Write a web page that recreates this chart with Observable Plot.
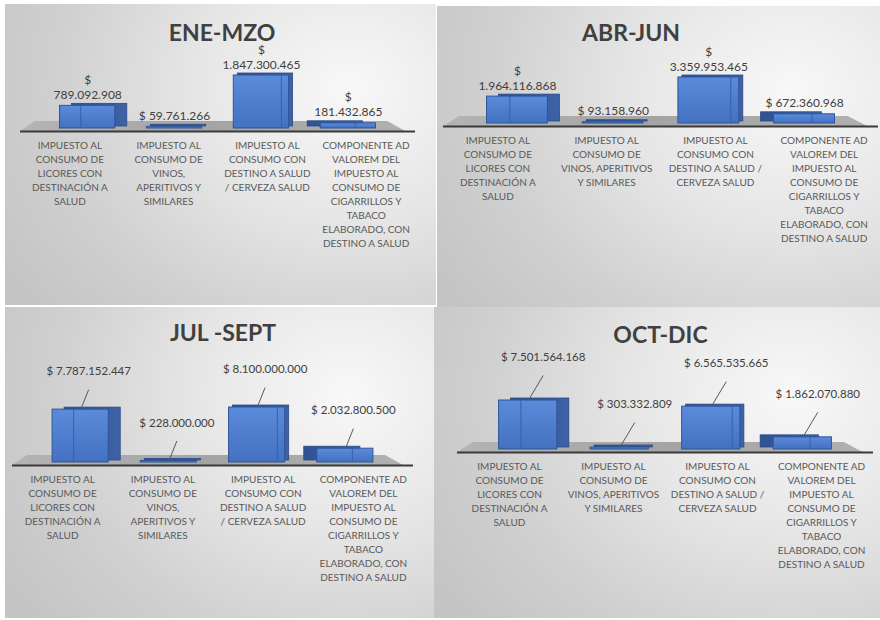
<!DOCTYPE html>
<html>
<head>
<meta charset="utf-8">
<script src="https://cdn.jsdelivr.net/npm/d3@7"></script>
<script src="https://cdn.jsdelivr.net/npm/@observablehq/plot@0.6"></script>
<style>
  html, body { margin: 0; padding: 0; background: #ffffff; }
  #root { position: relative; width: 880px; height: 620px; overflow: hidden; background: #ffffff; }
  .panel { position: absolute; overflow: hidden;
    background: radial-gradient(ellipse 95% 115% at 80% 28%, #f8f8f8 0%, #e6e6e6 38%, #d0d0d0 72%, #c4c4c4 100%); }
  .panel svg { position: absolute; left: 0; top: 0; background: transparent !important; overflow: visible; }
</style>
</head>
<body>
<svg width="0" height="0" style="position:absolute">
  <defs>
    <linearGradient id="barFront" x1="0" y1="0" x2="0" y2="1">
      <stop offset="0%" stop-color="#5b8bdb"/>
      <stop offset="100%" stop-color="#4471c2"/>
    </linearGradient>
    <linearGradient id="barSide" x1="0" y1="0" x2="1" y2="0">
      <stop offset="0%" stop-color="#2f5291"/>
      <stop offset="100%" stop-color="#3d62a6"/>
    </linearGradient>
    <linearGradient id="floorFill" x1="0" y1="0" x2="1" y2="0">
      <stop offset="0%" stop-color="#b4b4b4"/>
      <stop offset="50%" stop-color="#a4a4a4"/>
      <stop offset="100%" stop-color="#b0b0b0"/>
    </linearGradient>
  </defs>
</svg>
<div id="root"></div>
<script>
// ---------- data ----------
const categories = [
  "IMPUESTO AL CONSUMO DE LICORES CON DESTINACIÓN A SALUD",
  "IMPUESTO AL CONSUMO DE VINOS, APERITIVOS Y SIMILARES",
  "IMPUESTO AL CONSUMO CON DESTINO A SALUD / CERVEZA SALUD",
  "COMPONENTE AD VALOREM DEL IMPUESTO AL CONSUMO DE CIGARRILLOS Y TABACO ELABORADO, CON DESTINO A SALUD"
];
// tick labels as wrapped in the narrow (left) and wide (right) panels
const labelsNarrow = [
  "IMPUESTO AL\nCONSUMO DE\nLICORES CON\nDESTINACIÓN A\nSALUD",
  "IMPUESTO AL\nCONSUMO DE\nVINOS,\nAPERITIVOS Y\nSIMILARES",
  "IMPUESTO AL\nCONSUMO CON\nDESTINO A SALUD\n/ CERVEZA SALUD",
  "COMPONENTE AD\nVALOREM DEL\nIMPUESTO AL\nCONSUMO DE\nCIGARRILLOS Y\nTABACO\nELABORADO, CON\nDESTINO A SALUD"
];
const labelsWide = [
  "IMPUESTO AL\nCONSUMO DE\nLICORES CON\nDESTINACIÓN A\nSALUD",
  "IMPUESTO AL\nCONSUMO DE\nVINOS, APERITIVOS\nY SIMILARES",
  "IMPUESTO AL\nCONSUMO CON\nDESTINO A SALUD /\nCERVEZA SALUD",
  "COMPONENTE AD\nVALOREM DEL\nIMPUESTO AL\nCONSUMO DE\nCIGARRILLOS Y\nTABACO\nELABORADO, CON\nDESTINO A SALUD"
];
const periods = ["ENE-MZO", "ABR-JUN", "JUL -SEPT", "OCT-DIC"];
const eneMzo  = [789092908, 59761266, 1847300465, 181432865];
const abrJun  = [1964116868, 93158960, 3359953465, 672360968];
const julSept = [7787152447, 228000000, 8100000000, 2032800500];
const octDic  = [7501564168, 303332809, 6565535665, 1862070880];

// ---------- styling / layout ----------
const fmt = d3.formatLocale({decimal: ",", thousands: ".", grouping: [3], currency: ["$ ", ""]}).format("$,.0f");
const PERSPECTIVE = 0.88;         // bars converge toward the centre
const HALF = 0.28;                // half bar width in category units
const DEPTH = [12, 4, 4, -13];    // px offset of the back face (3-D look)
const INNER = [-0.25, null, 0.72, 0.25]; // visible back edge inside the front face
const FONT = "Lato, 'Open Sans', sans-serif";

const panels = [
  {values: eneMzo, labels: labelsNarrow, title: periods[0], left: 5, top: 4, width: 431, height: 301,
   ml: 15, mr: 21, axisY: 127, hMax: 53, titleDx: 4, titleY: 29, wrapChars: 12, leader: null},
  {values: abrJun, labels: labelsWide, title: periods[1], left: 437, top: 6, width: 443, height: 304,
   ml: 6, mr: 2, axisY: 120, hMax: 46, titleDx: -30, titleY: 27, wrapChars: 13, leader: null},
  {values: julSept, labels: labelsNarrow, title: periods[2], left: 5, top: 307, width: 429, height: 311,
   ml: 7, mr: 21, axisY: 158, hMax: 55, titleDx: 10, titleY: 26, wrapChars: null, leader: [8, 20]},
  {values: octDic, labels: labelsWide, title: periods[3], left: 434, top: 307, width: 446, height: 311,
   ml: 23, mr: 7, axisY: 145, hMax: 49, titleDx: -5, titleY: 28, wrapChars: null, leader: [15, 25]}
];

const root = document.getElementById("root");

function drawPanel(p) {
  const vMax = d3.max(p.values);
  const px2y = px => px * vMax / p.hMax;
  const unitPx = (p.width - p.ml - p.mr) / 4;
  const px2x = px => px / unitPx;
  const y0 = -px2y(3);

  const rows = p.values.map((v, i) => {
    const t = fmt(v);
    return {
      i, cat: categories[i], label: p.labels[i], value: v,
      text: (p.wrapChars && t.length > p.wrapChars) ? t.replace("$ ", "$\n") : t,
      xl: i + 0.5,
      xc: 2 + (i + 0.5 - 2) * PERSPECTIVE
    };
  });

  const fd = px2y(7);
  const floor = [
    {x: 0, y: y0}, {x: 0.15, y: fd}, {x: 3.72, y: fd}, {x: 3.9, y: y0}
  ];

  const marks = [];
  // floor of the 3-D plot area
  marks.push(Plot.area(floor, {x1: "x", y1: y0, y2: "y", fill: "url(#floorFill)"}));
  // back (side) faces
  rows.forEach(r => {
    marks.push(Plot.rect([r], {
      x1: d => d.xc - HALF, x2: d => d.xc + HALF, y1: 0, y2: "value",
      dx: DEPTH[r.i], dy: -2, fill: "url(#barSide)", stroke: "#2a4a86", strokeWidth: 0.8
    }));
  });
  // front faces
  marks.push(Plot.rect(rows, {
    x1: d => d.xc - HALF, x2: d => d.xc + HALF, y1: 0, y2: "value",
    fill: "url(#barFront)", stroke: "#2f5597", strokeWidth: 1
  }));
  // back edge visible through the front face
  marks.push(Plot.ruleX(rows.filter(r => INNER[r.i] !== null), {
    x: d => d.xc + INNER[d.i] * HALF, y1: 0, y2: "value",
    stroke: "#3560ad", strokeWidth: 1
  }));
  // axis line
  marks.push(Plot.ruleY([y0], {stroke: "#3a3a3a", strokeWidth: 1.8}));

  // value labels
  if (p.leader) {
    const [lx, ly] = p.leader;
    marks.push(Plot.link(rows, {
      x1: "xc", y1: "value",
      x2: d => d.xc + px2x(lx), y2: d => d.value + px2y(ly),
      stroke: "#595959", strokeWidth: 1
    }));
    marks.push(Plot.text(rows, {
      x: d => d.xc + px2x(lx), y: d => d.value + px2y(ly), text: "text",
      dy: -18, fontSize: 11.5, fill: "#404040", lineAnchor: "middle"
    }));
  } else {
    marks.push(Plot.text(rows, {
      x: "xc", y: "value", text: "text",
      dy: -7, fontSize: 12, lineHeight: 1.25, fill: "#404040", lineAnchor: "bottom"
    }));
  }

  // category tick labels
  marks.push(Plot.text(rows, {
    x: "xl", y: y0, text: "label", dy: 8, lineAnchor: "top",
    fontSize: 10, lineHeight: 1.4, fill: "#595959"
  }));

  // title
  marks.push(Plot.text([p.title], {
    frameAnchor: "top", text: d => d, dx: p.titleDx, dy: p.titleY, lineAnchor: "middle",
    fontSize: 23, fontWeight: 700, fill: "#404040"
  }));

  const chart = Plot.plot({
    width: p.width, height: p.height,
    marginLeft: p.ml, marginRight: p.mr, marginTop: 0, marginBottom: 0,
    style: {background: "transparent", fontFamily: FONT, overflow: "visible"},
    x: {type: "linear", domain: [0, 4], range: [p.ml, p.width - p.mr], axis: null},
    y: {type: "linear", domain: [y0, vMax], range: [p.axisY, p.axisY - 3 - p.hMax], axis: null},
    marks
  });

  const div = document.createElement("div");
  div.className = "panel";
  div.style.left = p.left + "px";
  div.style.top = p.top + "px";
  div.style.width = p.width + "px";
  div.style.height = p.height + "px";
  div.appendChild(chart);
  root.appendChild(div);
}

panels.forEach(drawPanel);
</script>
</body>
</html>
